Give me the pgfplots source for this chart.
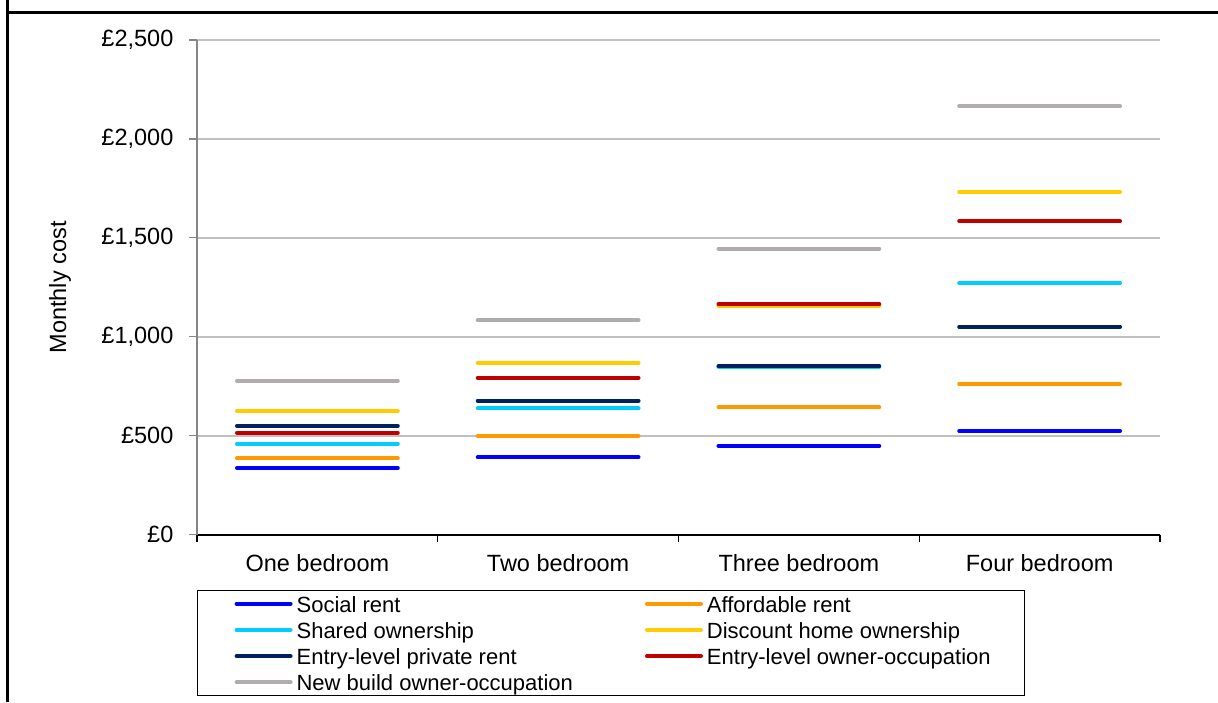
\documentclass[border=0pt]{standalone}
\usepackage{fontspec}
\setmainfont{Liberation Sans}
\usepackage{pgfplots}
\pgfplotsset{compat=1.18}

\definecolor{socialc}{HTML}{0000FF}
\definecolor{afford}{HTML}{FF9900}
\definecolor{shared}{HTML}{00CCFF}
\definecolor{discount}{HTML}{FFCC00}
\definecolor{privrent}{HTML}{002060}
\definecolor{ownocc}{HTML}{C00000}
\definecolor{newbuild}{HTML}{B0ACAC}
\definecolor{gridc}{HTML}{C0C0C0}
\definecolor{yaxisc}{HTML}{868686}

\newcommand{\tickfont}{\fontsize{11.75}{14}\selectfont}
\newcommand{\legfont}{\fontsize{11}{13}\selectfont}

\begin{document}
\begin{tikzpicture}
\path[use as bounding box] (0,0) rectangle (609pt,-351pt);
\draw[line width=1.4pt] (3.6pt,0pt) -- (3.6pt,-351pt);
\draw[line width=1.4pt] (3.6pt,-6.35pt) -- (609pt,-6.35pt);

\begin{axis}[
    at={(98.5pt,-267.35pt)}, anchor=south west,
    scale only axis, width=481.5pt, height=247.35pt,
    xmin=0, xmax=4, ymin=0, ymax=2500,
    axis x line*=bottom, axis y line*=left,
    x axis line style={black, line width=0.8pt},
    y axis line style={yaxisc, line width=0.8pt},
    tick align=outside, major tick length=3.8pt,
    xtick={0,1,2,3,4},
    x tick label as interval,
    xticklabels={One bedroom, Two bedroom, Three bedroom, Four bedroom},
    xticklabel style={yshift=-2.5pt},
    xtick style={black, line width=0.6pt},
    ytick={0,500,1000,1500,2000,2500},
    yticklabels={£0,£500,{£1,000},{£1,500},{£2,000},{£2,500}},
    yticklabel style={xshift=-4.5pt},
    ytick style={yaxisc, line width=0.6pt},
    ymajorgrids, grid style={gridc, line width=1pt},
    tick label style={font=\tickfont},
    ylabel={Monthly cost},
    ylabel style={font=\tickfont, at={(axis description cs:-0.1423,0.5)}, anchor=center},
    unbounded coords=jump,
    legend columns=2,
    legend cell align=left,
    legend image code/.code={\path (0pt,0pt); \draw[#1] (3.5pt,0pt) -- (30.5pt,0pt);},
    legend style={at={(axis description cs:0,-0.1118)}, anchor=north west,
        draw=black, line width=0.6pt, font=\legfont,
        inner xsep=15pt, inner ysep=0pt,
        nodes={text height=9.5pt, text depth=1pt, inner ysep=1.3pt},
        /tikz/column 2/.style={column sep=30.5pt}},
]
\addplot[socialc, line width=2pt, line cap=round] coordinates {(0.166,337) (0.834,337) (1,nan) (1.166,392) (1.834,392) (2,nan) (2.166,449) (2.834,449) (3,nan) (3.166,525) (3.834,525)};
\addlegendentry{Social rent}
\addplot[afford, line width=2pt, line cap=round] coordinates {(0.166,386) (0.834,386) (1,nan) (1.166,498) (1.834,498) (2,nan) (2.166,643) (2.834,643) (3,nan) (3.166,760) (3.834,760)};
\addlegendentry{Affordable rent}
\addplot[shared, line width=2pt, line cap=round] coordinates {(0.166,460) (0.834,460) (1,nan) (1.166,638) (1.834,638) (2,nan) (2.166,850) (2.834,850) (3,nan) (3.166,1273) (3.834,1273)};
\addlegendentry{Shared ownership}
\addplot[discount, line width=2pt, line cap=round] coordinates {(0.166,625) (0.834,625) (1,nan) (1.166,869) (1.834,869) (2,nan) (2.166,1158) (2.834,1158) (3,nan) (3.166,1732) (3.834,1732)};
\addlegendentry{Discount home ownership}
\addplot[privrent, line width=2pt, line cap=round] coordinates {(0.166,550) (0.834,550) (1,nan) (1.166,677) (1.834,677) (2,nan) (2.166,852) (2.834,852) (3,nan) (3.166,1051) (3.834,1051)};
\addlegendentry{Entry-level private rent}
\addplot[ownocc, line width=2pt, line cap=round] coordinates {(0.166,515) (0.834,515) (1,nan) (1.166,793) (1.834,793) (2,nan) (2.166,1165) (2.834,1165) (3,nan) (3.166,1584) (3.834,1584)};
\addlegendentry{Entry-level owner-occupation}
\addplot[newbuild, line width=2pt, line cap=round] coordinates {(0.166,778) (0.834,778) (1,nan) (1.166,1084) (1.834,1084) (2,nan) (2.166,1446) (2.834,1446) (3,nan) (3.166,2165) (3.834,2165)};
\addlegendentry{New build owner-occupation}
\end{axis}
\end{tikzpicture}
\end{document}
